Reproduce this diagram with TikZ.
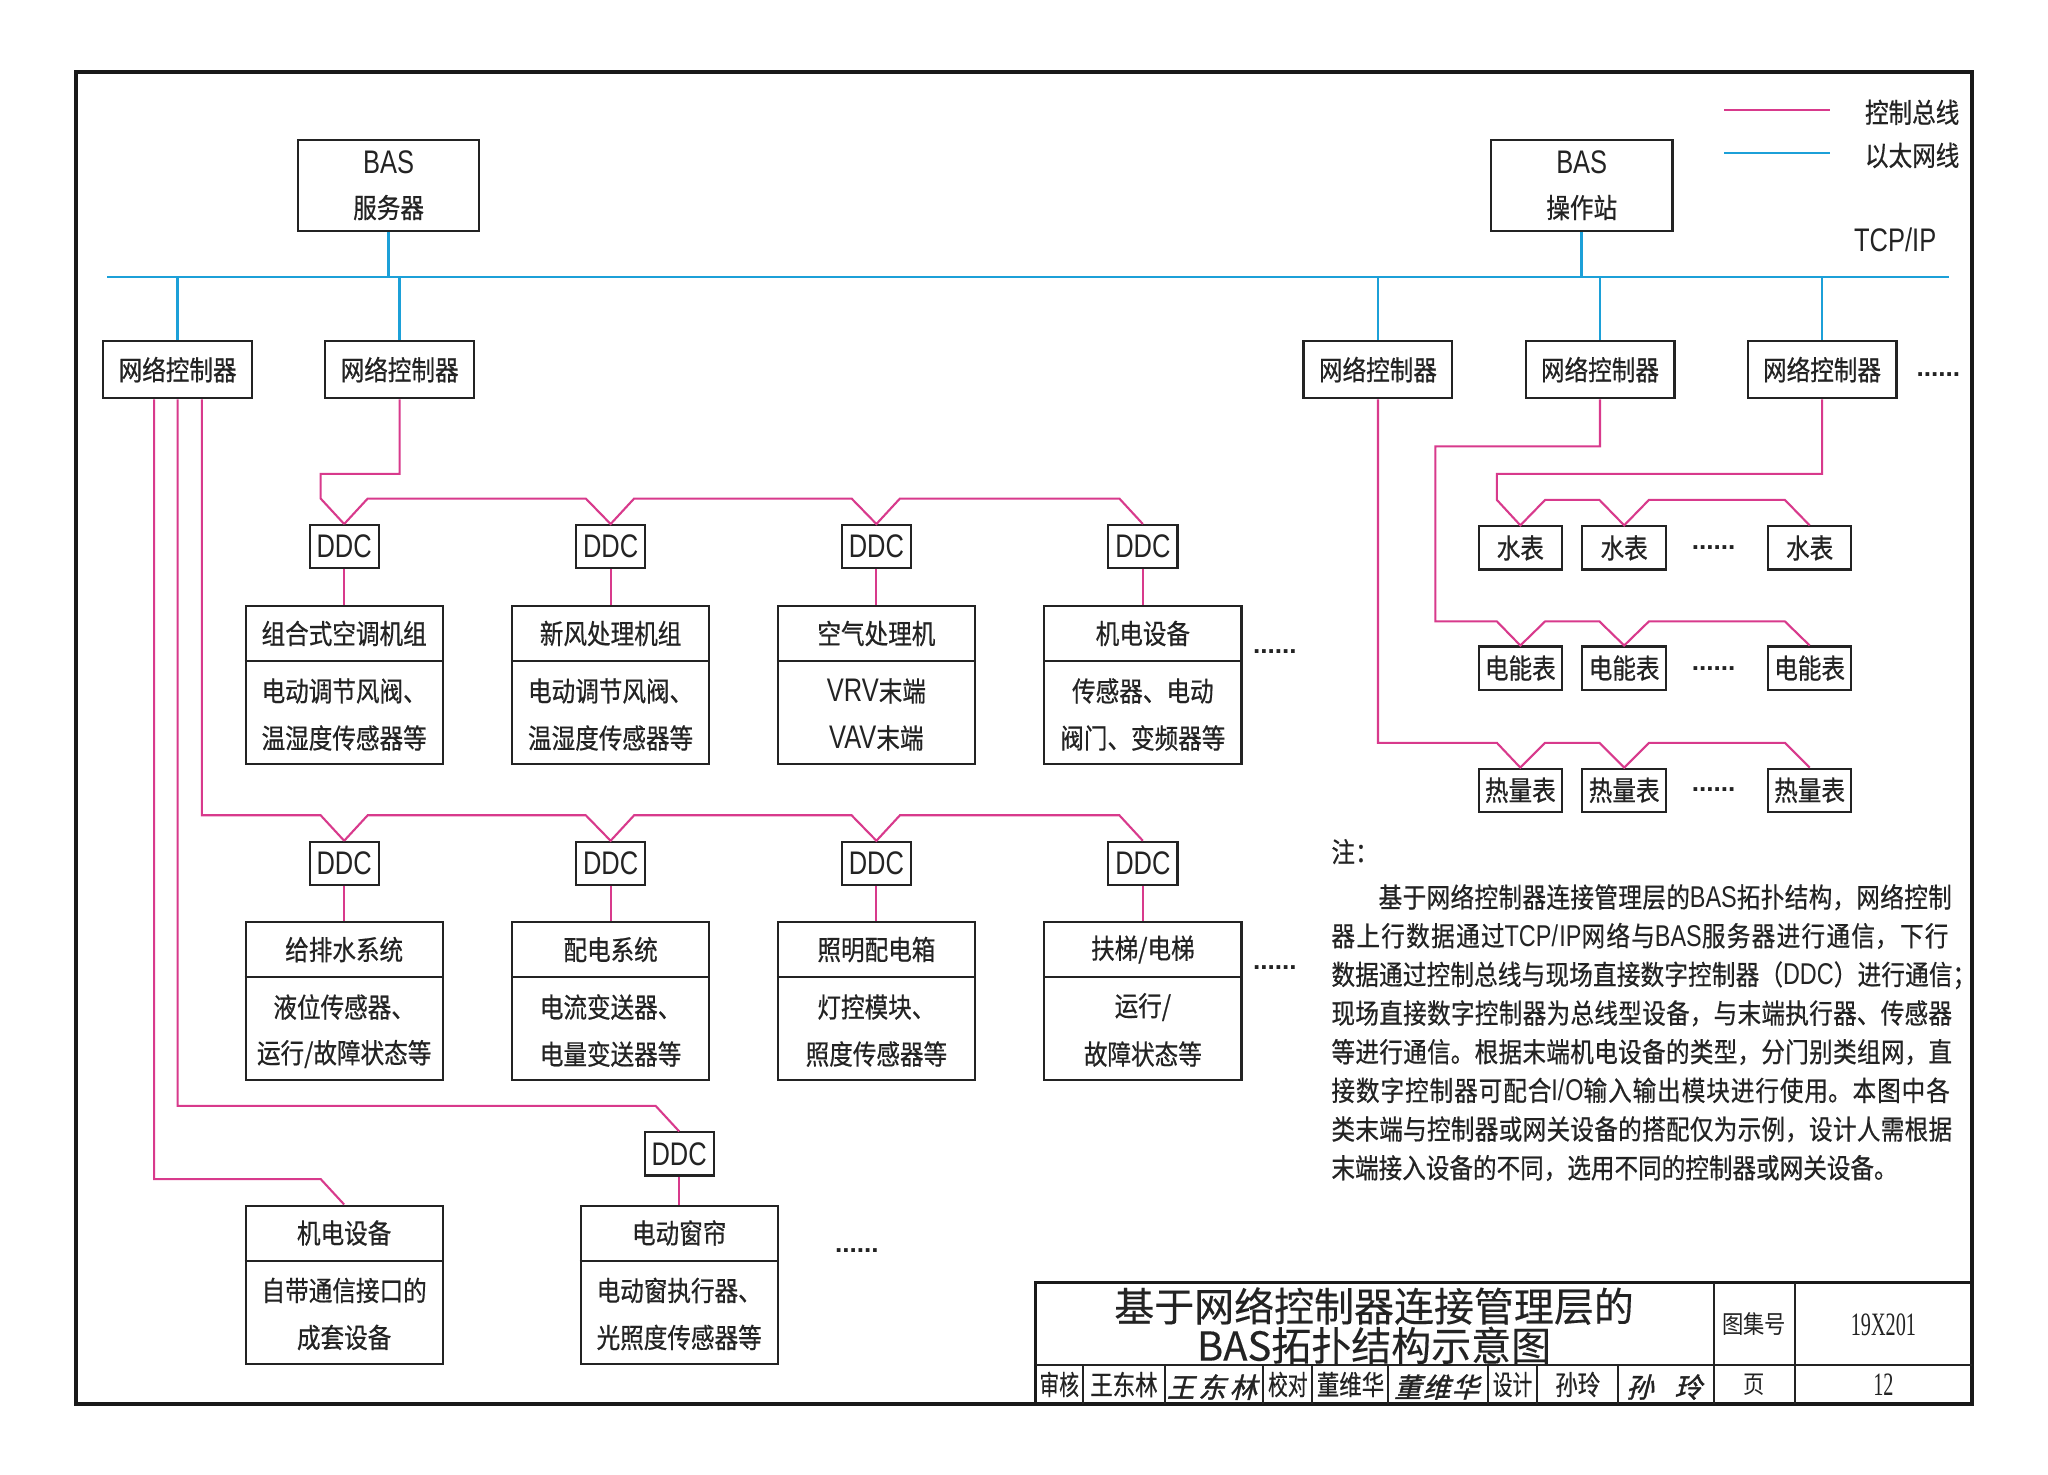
\documentclass[tikz,border=0pt]{standalone}
\usepackage{fontspec}
\usetikzlibrary{calc}
\newfontfamily\cjk[FakeStretch=0.86,FakeBold=0.6]{Noto Sans CJK SC}
\newfontfamily\cjkn[FakeStretch=0.72,FakeBold=0.4]{Noto Sans CJK SC}
\newfontfamily\cjkm[FakeStretch=0.82,FakeBold=0.6]{Noto Sans CJK SC}
\newfontfamily\cjkt[FakeBold=0.3]{Noto Sans CJK SC}
\newfontfamily\cjkl[FakeStretch=0.86]{Noto Sans CJK SC}
\newfontfamily\cjksig[FakeSlant=0.25,FakeBold=1.5]{Noto Sans CJK SC}
\newfontfamily\lat[FakeStretch=0.78]{Liberation Sans}
\newfontfamily\serifn[FakeStretch=0.62]{Liberation Serif}
\newfontfamily\dotf{Liberation Sans}
\definecolor{pinkc}{RGB}{216,58,140}
\definecolor{bluec}{RGB}{28,160,216}
\definecolor{inkc}{RGB}{35,35,35}
\newcommand\LL[1]{{\lat\fontsize{12.5}{14}\selectfont #1}}
\newcommand\NL[1]{{\lat\fontsize{11.5}{13}\selectfont #1}}
\newcommand\mkdev[6]{%
 \node[devb] (#1) at (#2,#3+60.5) {};
 \draw[bxl] ($(#1.north west)+(0,43)$) -- ($(#1.north east)+(0,43)$);
 \node[lbl] (#1t) at (#2,#3+21) {#4};
 \node[lbl] (#1a) at (#2,#3+65) {#5};
 \node[lbl] (#1b) at (#2,#3+101) {#6};}
\tikzset{
 bx/.style={draw=inkc, line width=0.8pt, inner sep=0pt, text=inkc, font=\cjk\fontsize{10.5}{17}\selectfont, align=center},
 ncb/.style={bx, minimum width=57pt, minimum height=22pt},
 srv/.style={bx, minimum width=69.5pt, minimum height=35pt},
 ddcb/.style={bx, minimum width=26.5pt, minimum height=16.5pt, font=\lat\fontsize{12.5}{14}\selectfont},
 devb/.style={bx, minimum width=75.5pt, minimum height=60.5pt},
 mtb/.style={bx, minimum width=32pt, minimum height=16.5pt},
 lbl/.style={inner sep=0pt, text=inkc, font=\cjk\fontsize{10.5}{13}\selectfont},
 bxl/.style={draw=inkc, line width=0.8pt},
 pk/.style={draw=pinkc, line width=0.8pt, line join=miter},
 bl/.style={draw=bluec, line width=1pt},
 dotn/.style={inner sep=0pt, anchor=base, text=inkc, font=\dotf\bfseries\fontsize{10}{12}\selectfont},
 tbl/.style={inner sep=0pt, text=inkc},
}
\begin{document}
\begin{tikzpicture}[x=0.5pt,y=-0.5pt]
\useasboundingbox (0,0) rectangle (1568,1129);
\fill[white] (0,0) rectangle (1568,1129);
% outer frame
\draw[line width=1.5pt, draw=black!90] (58,55) rectangle (1510,1075);

% legend
\coordinate (lg1a) at (1320,84); \coordinate (lg1b) at (1401,84);
\coordinate (lg2a) at (1320,117); \coordinate (lg2b) at (1401,117);
\draw[pk] (lg1a) -- (lg1b);
\draw[bl] (lg2a) -- (lg2b);
\node[lbl] (lg1t) at (1464,86) {控制总线};
\node[lbl] (lg2t) at (1464,119) {以太网线};

% top level
\node[srv] (server) at (297.5,142) {\LL{BAS}\\服务器};
\node[srv] (station) at (1211,142) {\LL{BAS}\\操作站};
\node[tbl, font=\lat\fontsize{12.5}{14}\selectfont] (tcp) at (1451,184) {TCP/IP};

\coordinate (busL) at (82,212); \coordinate (busR) at (1492,212);
\draw[bl] (busL) -- (busR);

\node[ncb] (nc1) at (136,283) {网络控制器};
\node[ncb] (nc2) at (306,283) {网络控制器};
\node[ncb] (nc3) at (1055,283) {网络控制器};
\node[ncb] (nc4) at (1225,283) {网络控制器};
\node[ncb] (nc5) at (1395,283) {网络控制器};
\node[dotn] (dts0) at (1484,288) {......};

\draw[bl] (server.south) -- (server.south |- busL);
\draw[bl] (station.south) -- (station.south |- busL);
\foreach \n in {nc1,nc2,nc3,nc4,nc5} {\draw[bl] (\n.north) -- (\n.north |- busL);}

% DDC rows
\node[ddcb] (ddc1) at (263.5,418.5) {DDC};
\node[ddcb] (ddc2) at (467.5,418.5) {DDC};
\node[ddcb] (ddc3) at (671,418.5) {DDC};
\node[ddcb] (ddc4) at (875,418.5) {DDC};
\node[ddcb] (ddc5) at (263.5,661) {DDC};
\node[ddcb] (ddc6) at (467.5,661) {DDC};
\node[ddcb] (ddc7) at (671,661) {DDC};
\node[ddcb] (ddc8) at (875,661) {DDC};
\node[ddcb] (ddc9) at (520,883.5) {DDC};

% device boxes
\mkdev{d1}{263.5}{464}{组合式空调机组}{电动调节风阀、}{温湿度传感器等}
\mkdev{d2}{467.5}{464}{新风处理机组}{电动调节风阀、}{温湿度传感器等}
\mkdev{d3}{671}{464}{空气处理机}{\LL{VRV}末端}{\LL{VAV}末端}
\mkdev{d4}{875}{464}{机电设备}{传感器、电动}{阀门、变频器等}
\mkdev{d5}{263.5}{706}{给排水系统}{液位传感器、}{运行/故障状态等}
\mkdev{d6}{467.5}{706}{配电系统}{电流变送器、}{电量变送器等}
\mkdev{d7}{671}{706}{照明配电箱}{灯控模块、}{照度传感器等}
\mkdev{d8}{875}{706}{扶梯/电梯}{运行/}{故障状态等}
\mkdev{d9}{520}{923}{电动窗帘}{电动窗执行器、}{光照度传感器等}
\mkdev{d10}{263.5}{923}{机电设备}{自带通信接口的}{成套设备}
\node[dotn] (dts1) at (976,500) {......};
\node[dotn] (dts2) at (976,742) {......};
\node[dotn] (dts3) at (656,959) {......};

% pink: row 1
\draw[pk] (nc2.south) -- ++(0,57) -| ($(ddc1.north)+(-18,-19.5)$) -- (ddc1.north);
\draw[pk] (ddc1.north) -- ++(18,-19.5) -- ($(ddc2.north)+(-19,-19.5)$) -- (ddc2.north)
 -- ++(18,-19.5) -- ($(ddc3.north)+(-19,-19.5)$) -- (ddc3.north)
 -- ++(18,-19.5) -- ($(ddc4.north)+(-18,-19.5)$) -- (ddc4.north);
% row 2
\draw[pk] ($(nc1.south)+(18.5,0)$) |- ($(ddc5.north)+(-18,-19.5)$) -- (ddc5.north);
\draw[pk] (ddc5.north) -- ++(18,-19.5) -- ($(ddc6.north)+(-19,-19.5)$) -- (ddc6.north)
 -- ++(18,-19.5) -- ($(ddc7.north)+(-19,-19.5)$) -- (ddc7.north)
 -- ++(18,-19.5) -- ($(ddc8.north)+(-18,-19.5)$) -- (ddc8.north);
% row 3
\draw[pk] (nc1.south) |- ($(ddc9.north)+(-18,-19.5)$) -- (ddc9.north);
\draw[pk] ($(nc1.south)+(-18,0)$) |- ($(d10.north)+(-18,-19.5)$) -- (d10.north);
\foreach \a/\b in {ddc1/d1,ddc2/d2,ddc3/d3,ddc4/d4,ddc5/d5,ddc6/d6,ddc7/d7,ddc8/d8,ddc9/d9}
 {\draw[pk] (\a.south) -- (\b.north);}

% meters
\node[mtb] (wm1) at (1164,419.5) {水表};
\node[mtb] (wm2) at (1243.5,419.5) {水表};
\node[mtb] (wm3) at (1385.5,419.5) {水表};
\node[mtb] (em1) at (1164,511.5) {电能表};
\node[mtb] (em2) at (1243.5,511.5) {电能表};
\node[mtb] (em3) at (1385.5,511.5) {电能表};
\node[mtb] (hm1) at (1164,605) {热量表};
\node[mtb] (hm2) at (1243.5,605) {热量表};
\node[mtb] (hm3) at (1385.5,605) {热量表};
\node[dotn] (dts4) at (1312,421) {......};
\node[dotn] (dts5) at (1312,513) {......};
\node[dotn] (dts6) at (1312,606) {......};

\draw[pk] (nc5.south) -- ++(0,57) -| ($(wm1.north)+(-18,-19.5)$) -- (wm1.north)
 -- ++(19,-19.5) -- ($(wm2.north)+(-19,-19.5)$) -- (wm2.north)
 -- ++(19,-19.5) -- ($(wm3.north)+(-19,-19.5)$) -- (wm3.north);
\draw[pk] (nc4.south) -- ++(0,36) -| ($(em1.north)+(-65,-18.5)$) -- ($(em1.north)+(-18,-18.5)$) -- (em1.north)
 -- ++(19,-18.5) -- ($(em2.north)+(-19,-18.5)$) -- (em2.north)
 -- ++(19,-18.5) -- ($(em3.north)+(-19,-18.5)$) -- (em3.north);
\draw[pk] (nc3.south) |- ($(hm1.north)+(-18,-19)$) -- (hm1.north)
 -- ++(19,-19) -- ($(hm2.north)+(-19,-19)$) -- (hm2.north)
 -- ++(19,-19) -- ($(hm3.north)+(-19,-19)$) -- (hm3.north);

% note
\node[lbl, anchor=west] (zhu) at (1019,652) {注：};
\node[anchor=north west, inner sep=0pt, text width=238pt, text=inkc, font=\cjk\fontsize{10.5}{14.8}\selectfont] (note) at (1019,676.5) {%
\parindent=0pt\relax
\XeTeXlinebreaklocale "zh"\XeTeXlinebreakskip=0pt plus 6pt minus 1pt\relax
\parfillskip=0pt\relax\tolerance=9999\relax
\hspace*{18.06pt}基于网络控制器连接管理层的\NL{BAS}拓扑结构，网络控制\par
器上行数据通过\NL{TCP/IP}网络与\NL{BAS}服务器进行通信，下行\par
数据通过控制总线与现场直接数字控制器（\NL{DDC}）进行通信\rlap{；}\par
现场直接数字控制器为总线型设备，与末端执行器、传感器\par
等进行通信。根据末端机电设备的类型，分门别类组网，直\par
接数字控制器可配合\NL{I/O}输入输出模块进行使用。本图中各\par
类末端与控制器或网关设备的搭配仅为示例，设计人需根据\par
\parfillskip=0pt plus 1fil\relax 末端接入设备的不同，选用不同的控制器或网关设备。\par};

% title block
\draw[line width=1.3pt, draw=black!90] (793,1075) -- (793,982) -- (1510,982);
\draw[bxl] (793,1045) -- (1510,1045);
\draw[bxl] (1312,982) -- (1312,1075);
\draw[bxl] (1374,982) -- (1374,1075);
\foreach \xx in {829,892,967,1004.5,1063,1139.5,1177,1239} {\draw[bxl] (\xx,1045) -- (\xx,1075);}
\node[tbl, font=\cjkt\fontsize{15.3}{17}\selectfont] (tt1) at (1052,1000) {基于网络控制器连接管理层的};
\node[tbl, font=\cjkt\fontsize{15.3}{17}\selectfont] (tt2) at (1052,1030) {BAS拓扑结构示意图};
\node[tbl, font=\cjkl\fontsize{9.5}{11}\selectfont] (tjh) at (1343,1014) {图集号};
\node[tbl, font=\serifn\fontsize{12.5}{14}\selectfont] (tjn) at (1442,1014) {19X201};
\node[tbl, font=\cjkl\fontsize{9.5}{11}\selectfont] (ye) at (1343,1060) {页};
\node[tbl, font=\serifn\fontsize{12.5}{14}\selectfont] (yen) at (1442,1060) {12};
\node[tbl, font=\cjkn\fontsize{10.5}{12}\selectfont] (sh) at (811,1060) {审核};
\node[tbl, font=\cjkm\fontsize{10.5}{12}\selectfont] (shn) at (860.5,1060) {王东林};
\node[tbl, font=\cjksig\fontsize{10.5}{12}\selectfont] (shs) at (928,1062) {王\hspace{1.5pt}东\hspace{1.5pt}林};
\node[tbl, font=\cjkn\fontsize{10.5}{12}\selectfont] (jd) at (986,1060) {校对};
\node[tbl, font=\cjkm\fontsize{10.5}{12}\selectfont] (jdn) at (1034,1060) {董维华};
\node[tbl, font=\cjksig\fontsize{10.5}{12}\selectfont] (jds) at (1100,1062) {董\hspace{0.5pt}维\hspace{0.5pt}华};
\node[tbl, font=\cjkn\fontsize{10.5}{12}\selectfont] (sj) at (1158,1060) {设计};
\node[tbl, font=\cjkm\fontsize{10.5}{12}\selectfont] (sjn) at (1208,1060) {孙玲};
\node[tbl, font=\cjksig\fontsize{10.5}{12}\selectfont] (sjs) at (1274,1062) {孙\hspace{8pt}玲};
\end{tikzpicture}
\end{document}
